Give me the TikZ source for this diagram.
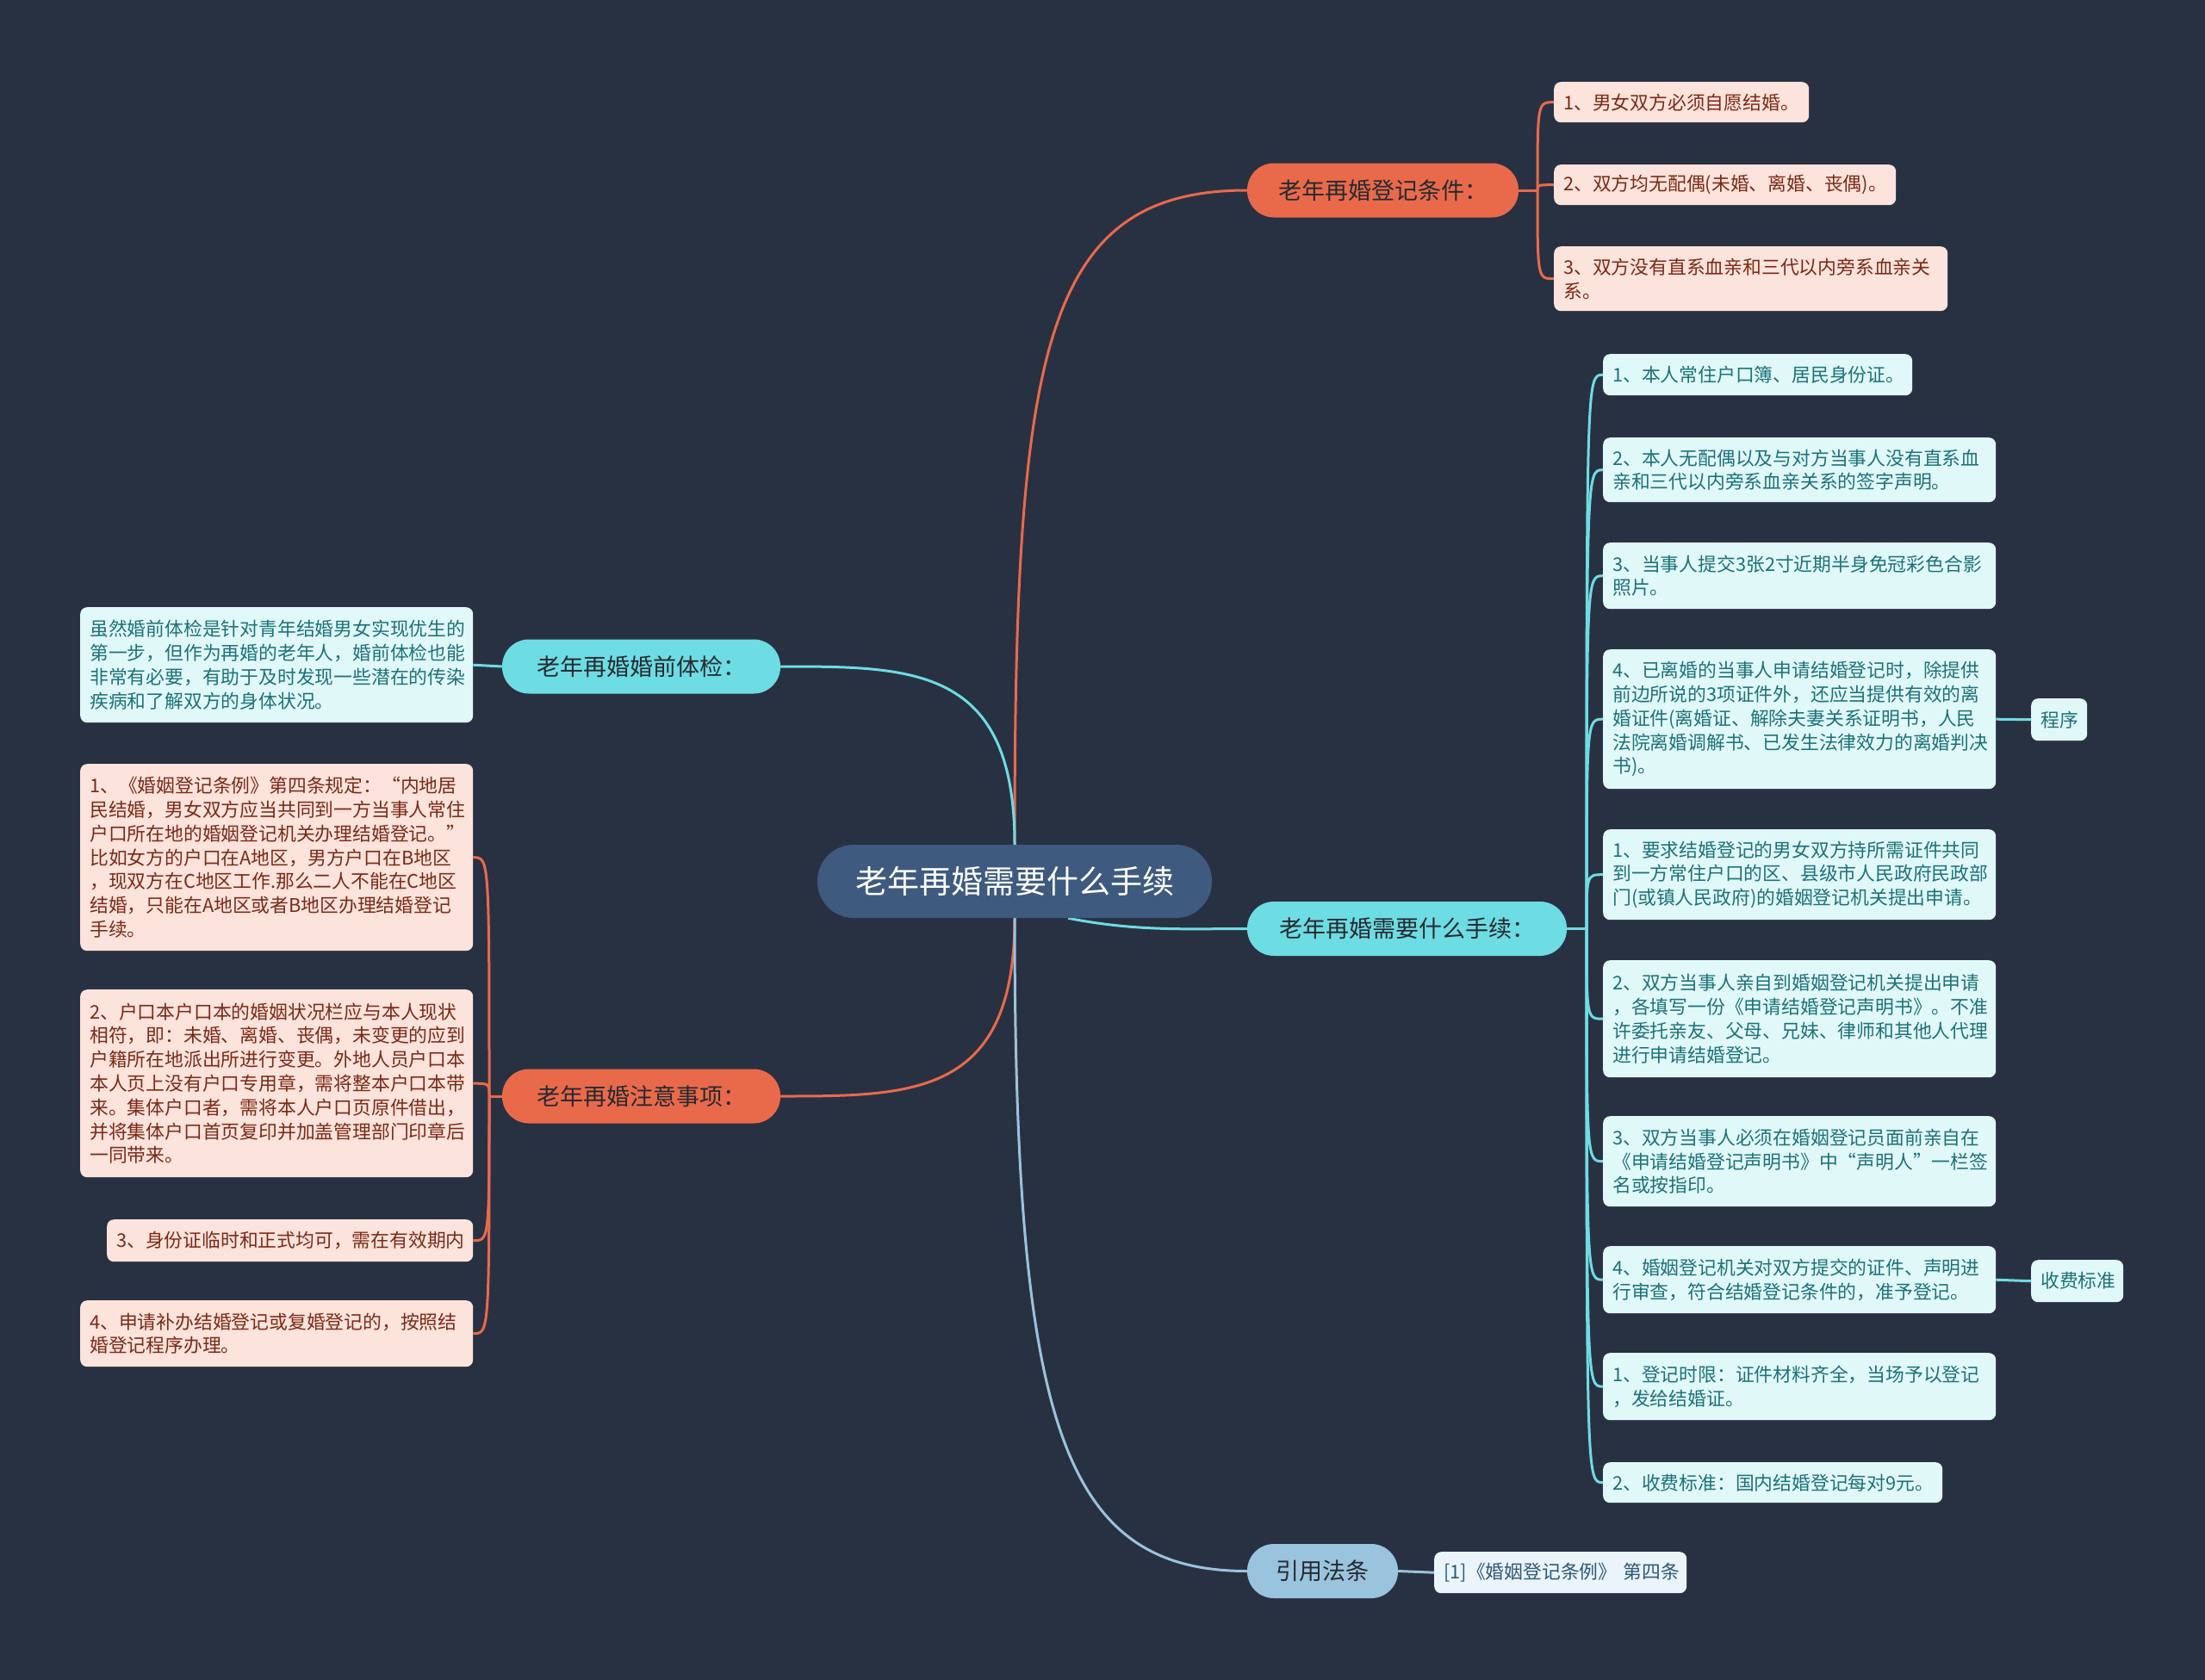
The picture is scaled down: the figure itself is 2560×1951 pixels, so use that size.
\documentclass[tikz,border=0pt]{standalone}
\usepackage{fontspec}
\setmainfont{Noto Sans CJK SC}
\usetikzlibrary{calc}
\definecolor{bgc}{HTML}{283142}
\definecolor{rootc}{HTML}{3E5A7E}
\definecolor{orc}{HTML}{E96A4B}
\definecolor{tlc}{HTML}{6EDCE3}
\definecolor{blc}{HTML}{9AC3DD}
\definecolor{ofill}{HTML}{FCE3DC}
\definecolor{otext}{HTML}{7A2A16}
\definecolor{tfill}{HTML}{E1F8F9}
\definecolor{ttext}{HTML}{1C7278}
\definecolor{bfill}{HTML}{EAF4FA}
\definecolor{btext}{HTML}{2D5878}
\definecolor{brtext}{HTML}{252A30}
\pgfdeclarelayer{back}
\pgfdeclarelayer{lines}
\pgfsetlayers{back,lines,main}
\begin{document}
\begin{tikzpicture}[x=1pt,y=-1pt,
  rootbox/.style={fill=rootc, rounded corners=42pt, minimum width=458pt, minimum height=85pt, inner sep=0pt, text=white, font=\fontsize{37}{44}\selectfont},
  brbox/.style={rounded corners=31pt, minimum height=63pt, inner sep=0pt, text=brtext, font=\fontsize{27}{32}\selectfont},
  obr/.style={brbox, fill=orc},
  tbr/.style={brbox, fill=tlc},
  bbr/.style={brbox, fill=blc},
  chbox/.style={anchor=north west, rounded corners=8pt, inner xsep=11pt, inner ysep=0pt, align=left, font=\fontsize{21.8}{27.8}\selectfont},
  och/.style={chbox, fill=ofill, text=otext},
  tch/.style={chbox, fill=tfill, text=ttext},
  bch/.style={chbox, fill=bfill, text=btext},
  oline/.style={draw=orc, line width=3pt},
  tline/.style={draw=tlc, line width=3pt},
  bline/.style={draw=blc, line width=3pt}]

\begin{pgfonlayer}{back}
\fill[bgc] (0,0) rectangle (2560,1951);
\end{pgfonlayer}
\useasboundingbox (0,0) rectangle (2560,1951);

% root and branches
\node[rootbox] (root) at (1178,1023.5) {老年再婚需要什么手续};
\node[obr, minimum width=315pt] (b1) at (1605.5,221) {老年再婚登记条件：};
\node[tbr, minimum width=371pt] (b2) at (1633.5,1078.5) {老年再婚需要什么手续：};
\node[bbr, minimum width=175pt] (b3) at (1535.5,1824.5) {引用法条};
\node[tbr, minimum width=323pt] (bl1) at (744.5,774) {老年再婚婚前体检：};
\node[obr, minimum width=323pt] (bl2) at (744.5,1273) {老年再婚注意事项：};

% right orange children
\node[och, text width=274pt, minimum height=47pt] (r1) at (1804,95) {1、男女双方必须自愿结婚。};
\node[och, text width=375pt, minimum height=47pt] (r2) at (1804,191) {2、双方均无配偶(未婚、离婚、丧偶)。};
\node[och, text width=435pt, minimum height=75pt] (r3) at (1804,286) {3、双方没有直系血亲和三代以内旁系血亲关\\系。};

% right teal children
\node[tch, text width=337pt, minimum height=48pt] (t1) at (1861,411) {1、本人常住户口簿、居民身份证。};
\node[tch, text width=434pt, minimum height=75pt] (t2) at (1861,508) {2、本人无配偶以及与对方当事人没有直系血\\亲和三代以内旁系血亲关系的签字声明。};
\node[tch, text width=434pt, minimum height=77pt] (t3) at (1861,630) {3、当事人提交3张2寸近期半身免冠彩色合影\\照片。};
\node[tch, text width=434pt, minimum height=162pt] (t4) at (1861,754) {4、已离婚的当事人申请结婚登记时，除提供\\前边所说的3项证件外，还应当提供有效的离\\婚证件(离婚证、解除夫妻关系证明书，人民\\法院离婚调解书、已发生法律效力的离婚判决\\书)。};
\node[tch, text width=43pt, minimum height=49pt] (p1) at (2358,811) {程序};
\node[tch, text width=434pt, minimum height=105pt] (t5) at (1861,963) {1、要求结婚登记的男女双方持所需证件共同\\到一方常住户口的区、县级市人民政府民政部\\门(或镇人民政府)的婚姻登记机关提出申请。};
\node[tch, text width=434pt, minimum height=136pt] (t6) at (1861,1115) {2、双方当事人亲自到婚姻登记机关提出申请\\，各填写一份《申请结婚登记声明书》。不准\\许委托亲友、父母、兄妹、律师和其他人代理\\进行申请结婚登记。};
\node[tch, text width=434pt, minimum height=105pt] (t7) at (1861,1296) {3、双方当事人必须在婚姻登记员面前亲自在\\《申请结婚登记声明书》中“声明人”一栏签\\名或按指印。};
\node[tch, text width=434pt, minimum height=78pt] (t8) at (1861,1447) {4、婚姻登记机关对双方提交的证件、声明进\\行审查，符合结婚登记条件的，准予登记。};
\node[tch, text width=85pt, minimum height=49pt] (p2) at (2358,1463) {收费标准};
\node[tch, text width=434pt, minimum height=78pt] (t9) at (1861,1571) {1、登记时限：证件材料齐全，当场予以登记\\，发给结婚证。};
\node[tch, text width=372pt, minimum height=47pt] (t10) at (1861,1698) {2、收费标准：国内结婚登记每对9元。};

% citation child
\node[bch, text width=271pt, minimum height=48pt] (c1) at (1665,1802) {\mbox{[1]《婚姻登记条例》 第四条}};

% left children
\node[tch, text width=434pt, minimum height=134pt] (lc) at (93,705) {虽然婚前体检是针对青年结婚男女实现优生的\\第一步，但作为再婚的老年人，婚前体检也能\\非常有必要，有助于及时发现一些潜在的传染\\疾病和了解双方的身体状况。};
\node[och, text width=434pt, minimum height=217pt] (l1) at (93,887) {1、《婚姻登记条例》第四条规定：“内地居\\民结婚，男女双方应当共同到一方当事人常住\\户口所在地的婚姻登记机关办理结婚登记。”\\比如女方的户口在A地区，男方户口在B地区\\，现双方在C地区工作.那么二人不能在C地区\\结婚，只能在A地区或者B地区办理结婚登记\\手续。};
\node[och, text width=434pt, minimum height=218pt] (l2) at (93,1149) {2、户口本户口本的婚姻状况栏应与本人现状\\相符，即：未婚、离婚、丧偶，未变更的应到\\户籍所在地派出所进行变更。外地人员户口本\\本人页上没有户口专用章，需将整本户口本带\\来。集体户口者，需将本人户口页原件借出，\\并将集体户口首页复印并加盖管理部门印章后\\一同带来。};
\node[och, text width=403pt, minimum height=49pt] (l3) at (124,1416) {3、身份证临时和正式均可，需在有效期内};
\node[och, text width=434pt, minimum height=77pt] (l4) at (93,1510) {4、申请补办结婚登记或复婚登记的，按照结\\婚登记程序办理。};

% bracket points
\coordinate (ob) at (1785,221);
\coordinate (tb) at (1842,1078.5);
\coordinate (lb) at (568,1273);

\begin{pgfonlayer}{lines}
% root connectors
\draw[oline] (root.north) .. controls (1178,408) and (1210,221) .. (b1.west);
\draw[tline] (root.north) .. controls (1178,774) and (1061,774) .. (bl1.east);
\draw[oline] (root.south) .. controls (1178,1273) and (1061,1273) .. (bl2.east);
\draw[bline] (root.south) .. controls (1178,1650) and (1232,1824.5) .. (b3.west);
\draw[tline] ([xshift=62pt]root.south) .. controls (1320,1082) and (1380,1078.5) .. (b2.west);
% orange right bracket
\draw[oline] (b1.east) -- (ob);
\foreach \c in {r1,r2,r3}
  \draw[oline] (ob) .. controls (ob |- \c.west) and (ob |- \c.west) .. (\c.west);
% teal right bracket
\draw[tline] (b2.east) -- (tb);
\foreach \c in {t1,t2,t3,t4,t5,t6,t7,t8,t9,t10}
  \draw[tline] (tb) .. controls (tb |- \c.west) and (tb |- \c.west) .. (\c.west);
\draw[tline] (t4.east) -- (p1.west);
\draw[tline] (t8.east) -- (p2.west);
\draw[bline] (b3.east) -- (c1.west);
% left
\draw[tline] (bl1.west) -- (lc.east);
\draw[oline] (bl2.west) -- (lb);
\foreach \c in {l1,l2,l3,l4}
  \draw[oline] (lb) .. controls (lb |- \c.east) and (lb |- \c.east) .. (\c.east);
\end{pgfonlayer}
\end{tikzpicture}
\end{document}
